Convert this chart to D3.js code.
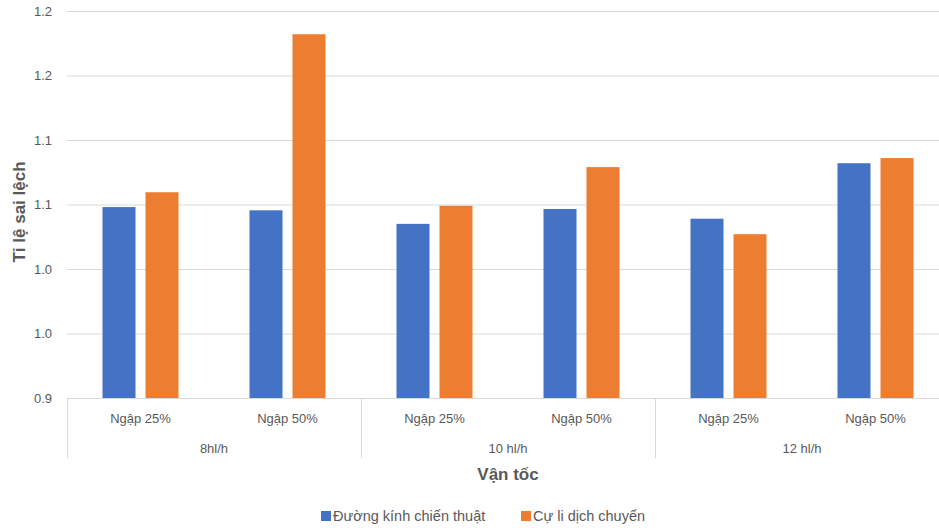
<!DOCTYPE html>
<html>
<head>
<meta charset="utf-8">
<script src="https://cdn.jsdelivr.net/npm/d3@7"></script>
<style>
  html, body { margin: 0; padding: 0; background: #fff; }
  svg { display: block; font-family: "Liberation Sans", Arial, sans-serif; }
</style>
</head>
<body>
<svg id="chart" width="939" height="528"></svg>
<script>
// Speed groups and flooding levels
const groups = ["8hl/h", "10 hl/h", "12 hl/h"];
const subcats = ["Ngập 25%", "Ngập 50%"];
const seriesNames = ["Đường kính chiến thuật", "Cự li dịch chuyển"];
const seriesColors = ["#4472C4", "#ED7D31"];

// Deviation ratio per group, in order: [Ngập 25%, Ngập 50%]
const duongKinh = [[1.048, 1.0455], [1.035, 1.0465], [1.039, 1.082]];
const cuLi = [[1.0595, 1.182], [1.049, 1.079], [1.027, 1.086]];

// Y axis ticks and their displayed labels (one decimal)
const yTicks = [0.9, 0.95, 1.0, 1.05, 1.1, 1.15, 1.2];
const yTickLabels = ["0.9", "1.0", "1.0", "1.1", "1.1", "1.2", "1.2"];

const svg = d3.select("#chart");
const plotLeft = 67, plotRight = 949, plotTop = 11, plotBottom = 398;
const grid = "#d9d9d9", textCol = "#595959";

const y = d3.scaleLinear().domain([0.9, 1.2]).range([plotBottom, plotTop]);
const xGroup = d3.scaleBand().domain(groups).range([plotLeft, plotRight]);
const xSub = d3.scaleBand().domain(subcats).range([0, xGroup.bandwidth()]);
const xSeries = d3.scaleBand().domain(seriesNames).range([0, xSub.bandwidth()])
  .paddingInner(0.2326).paddingOuter(0.8256);

// Horizontal gridlines with labels
const yAxis = d3.axisLeft(y).tickValues(yTicks)
  .tickFormat((d, i) => yTickLabels[i])
  .tickSize(-(plotRight - plotLeft)).tickPadding(15);
const gy = svg.append("g").attr("transform", `translate(${plotLeft},0)`).call(yAxis);
gy.select(".domain").remove();
gy.selectAll(".tick line").attr("stroke", grid).attr("stroke-width", 1);
gy.selectAll(".tick text").attr("fill", textCol).attr("font-size", 13);

// Bars
const rows = [];
groups.forEach((g, gi) => subcats.forEach((s, si) => {
  rows.push({ g, s, series: seriesNames[0], v: duongKinh[gi][si], c: seriesColors[0] });
  rows.push({ g, s, series: seriesNames[1], v: cuLi[gi][si], c: seriesColors[1] });
}));
svg.append("g").selectAll("rect").data(rows).join("rect")
  .attr("x", d => xGroup(d.g) + xSub(d.s) + xSeries(d.series))
  .attr("width", xSeries.bandwidth())
  .attr("y", d => y(d.v))
  .attr("height", d => y(0.9) - y(d.v))
  .attr("fill", d => d.c);

// Category axis: baseline, group separators, two label tiers
const xa = svg.append("g");
xa.append("line").attr("x1", plotLeft).attr("x2", plotRight).attr("y1", plotBottom + 0.5).attr("y2", plotBottom + 0.5)
  .attr("stroke", grid);
groups.forEach(g => {
  const x0 = Math.round(xGroup(g)) + 0.5;
  xa.append("line").attr("x1", x0).attr("x2", x0).attr("y1", plotBottom).attr("y2", 458).attr("stroke", grid);
  subcats.forEach(s => {
    xa.append("text").attr("x", xGroup(g) + xSub(s) + xSub.bandwidth() / 2).attr("y", 423)
      .attr("text-anchor", "middle").attr("fill", textCol).attr("font-size", 13).text(s);
  });
  xa.append("text").attr("x", xGroup(g) + xGroup.bandwidth() / 2).attr("y", 453)
    .attr("text-anchor", "middle").attr("fill", textCol).attr("font-size", 13).text(g);
});

// Axis titles
svg.append("text").attr("x", 508).attr("y", 480).attr("text-anchor", "middle")
  .attr("font-weight", "bold").attr("font-size", 17).attr("fill", textCol).text("Vận tốc");
svg.append("text").attr("transform", "translate(25,212) rotate(-90)").attr("text-anchor", "middle")
  .attr("font-weight", "bold").attr("font-size", 17).attr("fill", textCol).text("Tỉ lệ sai lệch");

// Legend
const legendX = [321, 521];
const lg = svg.append("g");
seriesNames.forEach((n, i) => {
  lg.append("rect").attr("x", legendX[i]).attr("y", 511).attr("width", 10).attr("height", 10).attr("fill", seriesColors[i]);
  lg.append("text").attr("x", legendX[i] + 12).attr("y", 521).attr("font-size", 14.5).attr("fill", textCol).text(n);
});
</script>
</body>
</html>
